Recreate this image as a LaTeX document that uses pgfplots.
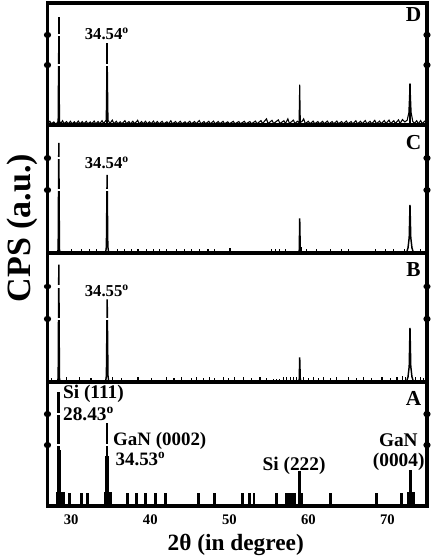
\documentclass[border=0pt]{standalone}
\usepackage{fontspec}
\setmainfont{Liberation Serif}
\usepackage{pgfplots}
\pgfplotsset{compat=1.18}
\pgfplotsset{panel/.style={
 scale only axis, width=284.625pt,
 xmin=27, xmax=75, ymin=0, ymax=100,
 axis line style={line width=2.7pt},
 xtick={30,40,50,60,70}, xticklabels={},
 xtick style={draw=none},
 ytick={49,74}, yticklabels={},
 ytick style={line width=4.4pt, line cap=round, black},
 major tick length=1pt, tick align=center,
 ymajorgrids, major grid style={white, line width=1.6pt},
 axis on top, anchor=south west,
}}
\newcommand{\lab}[1]{\fontsize{#1}{#1}\selectfont\bfseries}
\begin{document}
\begin{tikzpicture}
\useasboundingbox (-35.625pt,-39pt) rectangle (291.375pt,379.5pt);
% ---------------- Panel A ----------------
\begin{axis}[panel, at={(0pt,0pt)}, height=93pt,
  xticklabels={30,40,50,60,70},
  xticklabel style={font=\lab{11}, anchor=base, inner sep=0pt, yshift=-13.5pt}]
\addplot[black, ycomb, line width=2.2pt, mark=none] coordinates {
(28.2,11)(28.5,11)(28.8,11)(29.05,11)(29.79,10.5)(31.27,10.5)(32.11,10.5)
(34.3,11)(34.7,11)(34.95,11)(37.1,10.5)(38.24,10.5)(39.38,10.5)(40.69,10.5)(41.96,10.5)
(46.06,10.5)(48.17,10.5)(51.64,10.5)(52.53,10.5)(53.12,10.5)(55.91,10.5)
(57.2,10.5)(57.45,10.5)(57.7,10.5)(57.95,10.5)(58.2,10.5)(59.1,10.5)(62.76,10.5)
(68.67,10.5)(71.76,10.5)(72.6,11)(73.1,11)(73.3,11)};
\addplot[black, ycomb, line width=3.2pt, mark=none] coordinates {(28.43,45)(34.53,40)};
\addplot[black, ycomb, line width=2.2pt, mark=none] coordinates {
(28.43,92)(34.53,67)(58.88,28)(72.88,29)};
\coordinate (LA) at (rel axis cs:1,1);
\coordinate (A1) at (axis cs:28.94,86.3);
\coordinate (A2) at (axis cs:28.94,69.1);
\coordinate (A3) at (axis cs:35.28,48.4);
\coordinate (A4) at (axis cs:35.58,32.6);
\coordinate (A5) at (axis cs:58.19,29);
\coordinate (A6) at (axis cs:71.38,47.8);
\coordinate (A7) at (axis cs:71.42,31.7);
\end{axis}
% ---------------- Panel B ----------------
\begin{axis}[panel, at={(0pt,93pt)}, height=96.75pt]
\addplot[black, ycomb, line width=0.8pt, mark=none] coordinates {
(27.5,3)(29.37,3.5)(31.06,3.5)(32.5,3)(35.28,3.5)(36.34,3)(38.45,3.5)(40.2,3)(42.05,3.5)(43.0,3)(43.95,3.5)
(45.2,3)(45.8,3.5)(46.7,3)(47.5,3.5)(48.17,3)(49.23,3.5)(49.86,3)(50.71,3.5)(51.77,3.5)(52.82,3)
(53.88,3.5)(54.73,3)(55.6,2.5)(56.0,2.5)(56.4,2.5)(56.84,3.5)(57.26,3.5)(57.69,3.5)(58.11,3.5)(58.53,4)
(59.38,3.5)(60.01,3)(60.65,3.5)(61.28,3)(61.91,3.5)(62.76,3)(63.6,3.5)(65.08,3.5)(66.14,3)(66.99,3.5)
(68.04,3)(69.31,3.5)(70.37,3)(71.21,3.5)(71.85,4.5)(72.3,3.5)(73.54,3.5)(74.17,3.5)(74.6,3)};
\addplot[black, line width=1.1pt, mark=none] coordinates {
(27,0)(28.25,0)(28.35,3)(28.43,91)(28.51,3)(28.6,0)
(34.35,0)(34.45,5)(34.55,64)(34.65,5)(34.75,0)
(58.8,0)(58.85,3)(58.9,19)(58.97,3)(59.05,0)
(72.4,0)(72.6,4)(72.75,12)(72.85,42)(72.95,12)(73.1,4)(73.3,0)(75,0)};
\coordinate (LB) at (rel axis cs:1,1);
\coordinate (B1) at (axis cs:31.69,66.1);
\end{axis}
% ---------------- Panel C ----------------
\begin{axis}[panel, at={(0pt,189.75pt)}, height=96pt]
\addplot[black, ycomb, line width=0.8pt, mark=none] coordinates {
(30.0,3.5)(31.27,3.5)(32.3,3.5)(33.17,3.5)(35.91,3.5)(36.77,3.5)(37.6,3.5)(38.45,3.5)(39.5,3.5)
(40.35,3.5)(41.2,3.5)(42.05,3.5)(43.3,3.5)(44.37,3.5)(45.2,3.5)(46.27,3.5)(47.3,3.5)(48.17,3.5)
(50.08,4)(55.36,3.5)(55.78,3.5)(56.4,3.5)(57.05,3.5)(59.17,4.5)(59.8,3.5)(61.07,3.5)(62.76,3.5)
(64.24,3.5)(65.08,3.5)(68.46,3.5)(69.73,3.5)(70.78,3.5)(72.1,3)(74.2,3)};
\addplot[black, line width=1.1pt, mark=none] coordinates {
(27,0)(28.25,0)(28.35,3)(28.43,86)(28.51,3)(28.6,0)
(34.35,0)(34.45,5)(34.54,61)(34.63,5)(34.75,0)
(58.8,0)(58.85,3)(58.9,27)(58.97,3)(59.05,0)
(72.4,0)(72.6,4)(72.75,12)(72.85,37.5)(72.95,12)(73.1,4)(73.3,0)(75,0)};
\coordinate (LC) at (rel axis cs:1,1);
\coordinate (C1) at (axis cs:31.69,66.2);
\end{axis}
% ---------------- Panel D ----------------
\begin{axis}[panel, at={(0pt,285.75pt)}, height=91.5pt]
\addplot[black, line width=0.8pt, mark=none] coordinates {
(27,1)(27.3,3)(27.5,1)(27.8,2.5)(28.0,1)(28.2,1.5)(28.33,3)(28.43,88.5)(28.53,3)(28.7,1.2)(28.9,3.5)(29.1,1)
(29.4,2.8)(29.6,1)(29.9,3)(30.1,1)(30.4,2.6)(30.6,1)(30.9,3.2)(31.1,1)(31.4,2.8)(31.6,1)(31.9,3)(32.1,1)
(32.4,2.5)(32.6,1)(32.9,3.2)(33.1,1)(33.4,2.8)(33.6,1)(33.9,3.5)(34.1,1.2)(34.42,4)(34.54,67)(34.66,4)
(34.9,1.2)(35.2,4)(35.4,1)(35.7,3)(35.9,1)(36.2,2.6)(36.4,1)(36.8,3.5)(37.0,1)(37.3,2.8)(37.5,1)
(37.8,3)(38.0,1)(38.4,3.8)(38.6,1)(38.9,2.8)(39.1,1)(39.4,3)(39.6,1)(39.9,2.6)(40.1,1)(40.4,3.2)
(40.6,1)(40.9,2.8)(41.1,1)(41.5,3)(41.7,1)(42.1,2.6)(42.3,1)(42.6,3.4)(42.8,1)(43.2,2.8)(43.4,1)
(43.8,3)(44.0,1)(44.4,2.6)(44.6,1)(45.0,3)(45.2,1)(45.6,2.8)(45.8,1)(46.2,3.6)(46.4,1)(46.8,2.8)
(47.0,1)(47.4,3)(47.6,1)(48.0,3.2)(48.2,1)(48.6,2.8)(48.8,1)(49.2,3)(49.4,1)(49.8,2.6)(50.0,1)
(50.5,3)(50.7,1)(51.2,2.8)(51.4,1)(51.9,3)(52.1,1)(52.6,2.8)(52.8,1)(53.3,3.2)(53.5,1)(54.0,3.6)
(54.2,1.2)(54.7,5)(54.9,1.2)(55.4,3.8)(55.6,1.2)(56.2,4.2)(56.4,1.2)(56.9,3.5)(57.1,1.2)(57.4,5)
(57.6,1.2)(58.1,4)(58.3,1.2)(58.6,3)(58.82,2)(58.9,33)(58.98,2)(59.2,3)(59.4,5)(59.6,1.2)(60.0,3)
(60.2,1)(60.6,3.2)(60.8,1)(61.2,2.8)(61.4,1)(61.8,3)(62.0,1)(62.4,3.2)(62.6,1)(63.0,2.8)(63.2,1)
(63.6,3.2)(63.8,1)(64.2,2.8)(64.4,1)(64.8,3.2)(65.0,1)(65.4,2.8)(65.6,1)(66.0,3.4)(66.2,1)(66.6,3)
(66.8,1)(67.2,3.6)(67.4,1)(67.8,3)(68.0,1)(68.4,3.8)(68.6,1)(69.0,3.2)(69.2,1)(69.6,3.6)(69.8,1.2)
(70.2,4)(70.4,1.2)(70.8,3.5)(71.0,1.2)(71.4,4.2)(71.6,1.2)(71.9,4.5)(72.2,2.5)(72.5,4)(72.7,10)
(72.85,34)(73.0,10)(73.2,3)(73.4,1.2)(73.7,3.5)(73.9,1)(74.2,3.6)(74.4,1)(74.7,3)(75,1)};
\addplot[black, ycomb, line width=1.1pt, mark=none] coordinates {(28.43,88.5)(34.54,67)(58.9,33)(72.85,34)};
\coordinate (LD) at (rel axis cs:1,1);
\coordinate (D1) at (axis cs:31.69,70.2);
\end{axis}
% ---------------- Texts ----------------
\node[font=\lab{16}] at ([shift={(-10.1pt,-9pt)}]LD) {D};
\node[font=\lab{16}] at ([shift={(-10.1pt,-13.5pt)}]LC) {C};
\node[font=\lab{16}] at ([shift={(-10.1pt,-12.75pt)}]LB) {B};
\node[font=\lab{16}] at ([shift={(-10.1pt,-12pt)}]LA) {A};
\node[font=\lab{12.5}, anchor=base west, inner sep=0pt] at (D1) {34.54\textsuperscript{o}};
\node[font=\lab{12.5}, anchor=base west, inner sep=0pt] at (C1) {34.54\textsuperscript{o}};
\node[font=\lab{12.5}, anchor=base west, inner sep=0pt] at (B1) {34.55\textsuperscript{o}};
\node[font=\lab{14.5}, anchor=base west, inner sep=0pt] at (A1) {Si (111)};
\node[font=\lab{14.5}, anchor=base west, inner sep=0pt] at (A2) {28.43\textsuperscript{o}};
\node[font=\lab{14.2}, anchor=base west, inner sep=0pt] at (A3) {GaN (0002)};
\node[font=\lab{14.2}, anchor=base west, inner sep=0pt] at (A4) {34.53\textsuperscript{o}};
\node[font=\lab{14.5}, anchor=base, inner sep=0pt] at (A5) {Si (222)};
\node[font=\lab{14.5}, anchor=base, inner sep=0pt] at (A6) {GaN};
\node[font=\lab{14.5}, anchor=base, inner sep=0pt] at (A7) {(0004)};
\node[font=\lab{17.5}, anchor=base, inner sep=0pt] at (141.2pt,-33pt) {2θ (in degree)};
\node[rotate=90, font=\lab{25.5}] at (-19.1pt,208.5pt) {CPS (a.u.)};
\end{tikzpicture}
\end{document}
